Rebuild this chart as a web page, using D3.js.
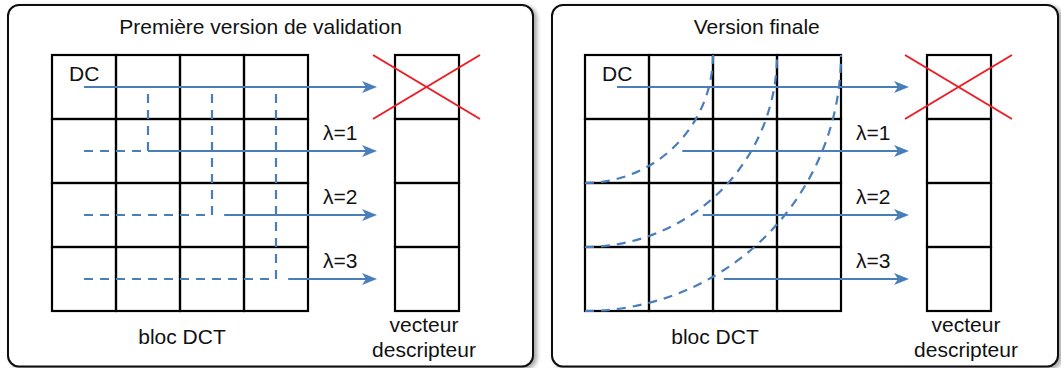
<!DOCTYPE html>
<html><head><meta charset="utf-8">
<script src="https://cdn.jsdelivr.net/npm/d3@7"></script>
<style>html,body{margin:0;padding:0;background:#fff;} svg{display:block;}</style>
</head><body>
<svg id="c" width="1061" height="368"></svg>
<script>
// ---- data ----
const panelTitles = ["Première version de validation", "Version finale"];
const gridCells = [0, 1, 2, 3];               // 4x4 DCT block
const rowLabels = ["DC", "λ=1", "λ=2", "λ=3"];
const excludedRows = [0];                      // DC removed from descriptor
// arrow start (in grid-cell units) per row
const arrowStartV1 = [0.5, 1.5, 2.69, 3.69];
const arrowStartV2 = [0.5, 1.52, 1.84, 2.17];
// version 1 : dashed L-shaped zones (vertical column position, in cells)
const zoneColsV1 = [null, 1.5, 2.5, 3.5];
// version 2 : dashed circular zone boundaries (radius, in cells)
const zoneRadiiV2 = [2, 3, 4];
const bottomLabels = ["bloc DCT", "vecteur", "descripteur"];

// ---- styles ----
const BLUE = "#4a7ebb", RED = "#ee1c25", FONT = "'Liberation Sans', Arial, sans-serif";
const svg = d3.select("#c");

const defs = svg.append("defs");
const f = defs.append("filter").attr("id","sh").attr("x","-5%").attr("y","-5%").attr("width","115%").attr("height","115%");
f.append("feDropShadow").attr("dx",3).attr("dy",2).attr("stdDeviation",2).attr("flood-color","#000").attr("flood-opacity",0.35);

const panels = [
  {x0: 8, x1: 533, gx: 52, vx: 395, title: 0, tx: 260.6, dcx: 69, lamx: 323, blocx: 182, vecx: 424, starts: arrowStartV1, v: 1},
  {x0: 552, x1: 1058, gx: 585, vx: 927, title: 1, tx: 756.7, dcx: 602, lamx: 856, blocx: 715, vecx: 966, starts: arrowStartV2, v: 2}
];
const GY = 55, CELL = 64;

function arrow(g, x1, x2, y) {
  g.append("line").attr("x1", x1).attr("x2", x2 - 10).attr("y1", y).attr("y2", y)
    .attr("stroke", BLUE).attr("stroke-width", 2.2);
  g.append("path").attr("d", `M${x2},${y} L${x2-15},${y-6} L${x2-11},${y} L${x2-15},${y+6} Z`)
    .attr("fill", BLUE);
}

panels.forEach(p => {
  const g = svg.append("g");
  const x = d3.scaleLinear().domain([0, 4]).range([p.gx, p.gx + 4 * CELL]);
  const y = d3.scaleLinear().domain([0, 4]).range([GY, GY + 4 * CELL]);
  const vy = y;

  g.append("rect").attr("x", p.x0).attr("y", 5).attr("width", p.x1 - p.x0).attr("height", 361.5)
    .attr("rx", 11).attr("ry", 11).attr("fill", "#fff").attr("stroke", "#111").attr("stroke-width", 2)
    .attr("filter", "url(#sh)");

  g.append("text").attr("x", p.tx).attr("y", 34).attr("text-anchor", "middle")
    .attr("font-family", FONT).attr("font-size", 21).attr("fill", "#111").text(panelTitles[p.title]);

  // grid
  const grid = g.append("g");
  gridCells.forEach(r => gridCells.forEach(c => {
    grid.append("rect").attr("x", x(c)).attr("y", y(r)).attr("width", x(c+1) - x(c)).attr("height", y(r+1) - y(r))
      .attr("fill", "none").attr("stroke", "#000").attr("stroke-width", 2.2);
  }));
  // vector
  gridCells.forEach(r => {
    g.append("rect").attr("x", p.vx).attr("y", vy(r)).attr("width", CELL).attr("height", vy(r+1) - vy(r))
      .attr("fill", "none").attr("stroke", "#000").attr("stroke-width", 2.2);
  });

  // dashed zones
  const dz = g.append("g").attr("fill", "none").attr("stroke", BLUE).attr("stroke-width", 2.2).attr("stroke-dasharray", "9,7");
  if (p.v === 1) {
    zoneColsV1.forEach((zc, r) => {
      if (zc === null) return;
      const yr = y(r + 0.5);
      dz.append("path").attr("d", `M${x(0.5)},${yr} L${x(zc)},${yr} L${x(zc)},${y(0.5)}`);
    });
  } else {
    zoneRadiiV2.forEach(rad => {
      const R = x(rad) - x(0);
      dz.append("path").attr("d", `M${x(0)},${y(rad)} A${R},${R} 0 0 0 ${x(rad)},${y(0)}`);
    });
  }

  // arrows
  const ag = g.append("g");
  rowLabels.forEach((lab, r) => {
    const yr = y(r + 0.5);
    arrow(ag, x(p.starts[r]), p.vx - 18, yr);
    if (r === 0) {
      g.append("text").attr("x", p.dcx).attr("y", 81).attr("font-family", FONT).attr("font-size", 21).attr("fill", "#111").text(lab);
    } else {
      g.append("text").attr("x", p.lamx).attr("y", y(r) + 21).attr("font-family", FONT).attr("font-size", 21).attr("fill", "#111").text(lab);
    }
  });

  // red cross over excluded entries
  excludedRows.forEach(r => {
    const cx = p.vx + CELL / 2, x1 = cx - 54, x2 = cx + 53;
    g.append("line").attr("x1", x1).attr("y1", vy(r)).attr("x2", x2).attr("y2", vy(r+1)).attr("stroke", RED).attr("stroke-width", 2);
    g.append("line").attr("x1", x1).attr("y1", vy(r+1)).attr("x2", x2).attr("y2", vy(r)).attr("stroke", RED).attr("stroke-width", 2);
  });

  // bottom labels
  g.append("text").attr("x", p.blocx).attr("y", 344).attr("text-anchor", "middle").attr("font-family", FONT).attr("font-size", 21).attr("fill", "#111").text(bottomLabels[0]);
  g.append("text").attr("x", p.vecx).attr("y", 332).attr("text-anchor", "middle").attr("font-family", FONT).attr("font-size", 21).attr("fill", "#111").text(bottomLabels[1]);
  g.append("text").attr("x", p.vecx).attr("y", 357).attr("text-anchor", "middle").attr("font-family", FONT).attr("font-size", 21).attr("fill", "#111").text(bottomLabels[2]);
});
</script>
</body></html>
